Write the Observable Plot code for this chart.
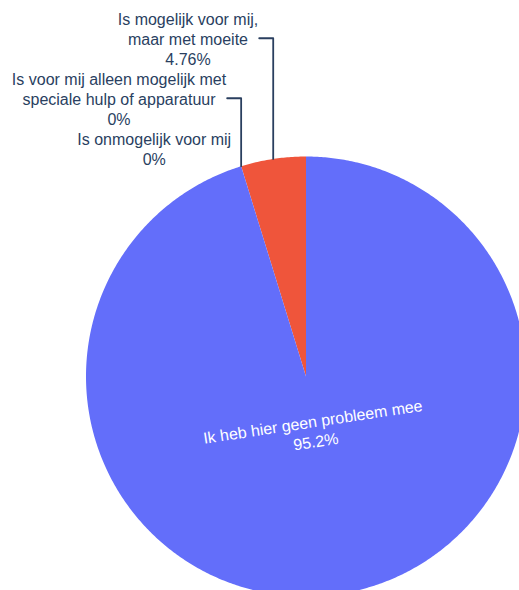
<!DOCTYPE html>
<html>
<head>
<meta charset="utf-8">
<script src="https://cdn.jsdelivr.net/npm/d3@7"></script>
<script src="https://cdn.jsdelivr.net/npm/@observablehq/plot@0.6"></script>
<style>
  html, body { margin: 0; padding: 0; background: #ffffff; overflow: hidden; }
  #chart svg { display: block; }
</style>
</head>
<body>
<div id="chart"></div>
<script>
// ---- data (counter-clockwise order starting at 12 o'clock) ----
const categories = [
  "Is mogelijk voor mij,\nmaar met moeite",
  "Is voor mij alleen mogelijk met\nspeciale hulp of apparatuur",
  "Is onmogelijk voor mij",
  "Ik heb hier geen probleem mee"
];
const values = [4.76, 0, 0, 95.2];
const percentLabels = ["4.76%", "0%", "0%", "95.2%"];
const colors = ["#EF553B", "#EF553B", "#EF553B", "#636EFA"];

// ---- layout constants ----
const W = 519, H = 590;
const cx = 305.5, cy = 376, R = 220;
const fontSize = 16, lineH = 20;
const textColor = "#2a3f5f";
const font = "Liberation Sans, Arial, Helvetica, sans-serif";

// ---- angles (degrees, ccw from top) ----
const total = d3.sum(values);
let acc = 0;
const slices = categories.map((c, i) => {
  const a0 = acc / total * 360;
  acc += values[i];
  const a1 = acc / total * 360;
  return {cat: c, value: values[i], pct: percentLabels[i], color: colors[i], a0, a1, mid: (a0 + a1) / 2, i};
});
const rad = d => d * Math.PI / 180;
const px = (r, a) => -r * Math.sin(rad(a));
const py = (r, a) => r * Math.cos(rad(a));

// slice polygons
const polys = [];
for (const s of slices) {
  if (s.value <= 0) continue;
  polys.push({key: s.cat, x: 0, y: 0});
  const n = Math.max(2, Math.ceil((s.a1 - s.a0) / 0.5));
  for (let k = 0; k <= n; ++k) {
    const a = s.a0 + (s.a1 - s.a0) * k / n;
    polys.push({key: s.cat, x: px(1, a), y: py(1, a)});
  }
  polys.push({key: s.cat, x: 0, y: 0});
}

// pixel <-> data helpers
const toX = p => (p - cx) / R;
const toY = p => (cy - p) / R;

// measure text widths
const ctx = document.createElement("canvas").getContext("2d");
ctx.font = `${fontSize}px "Liberation Sans", Arial, sans-serif`;
const blockWidth = lines => d3.max(lines, l => ctx.measureText(l).width);

// outside labels: small slices, stacked upward from the last one
const big = slices.reduce((a, b) => (b.value > a.value ? b : a));
const outside = slices.filter(s => s !== big);
const outsideTexts = [];
const leaders = [];
let nextTop = null;
for (let k = outside.length - 1; k >= 0; --k) {
  const s = outside[k];
  const lines = (s.cat + "\n" + s.pct).split("\n");
  const pX = cx + px(R, s.mid), pY = cy - py(R, s.mid);
  const w = blockWidth(lines);
  let lastY, right, withLeader;
  if (nextTop === null) {
    lastY = pY - 8; right = pX - 10; withLeader = false;
  } else {
    lastY = nextTop - lineH; right = pX - 15; withLeader = true;
  }
  const firstY = lastY - (lines.length - 1) * lineH;
  const midY = (firstY + lastY) / 2;
  outsideTexts.push({text: lines.join("\n"), x: toX(right - w / 2), y: toY(midY)});
  if (withLeader) {
    const id = s.cat;
    leaders.push({id, x: toX(pX), y: toY(pY)});
    leaders.push({id, x: toX(pX), y: toY(midY)});
    leaders.push({id, x: toX(pX - 14), y: toY(midY)});
  }
  nextTop = firstY;
}

// inside label for the big slice
const insideR = 0.25;
const inside = [{
  text: big.cat + "\n" + big.pct,
  x: px(insideR, big.mid),
  y: py(insideR, big.mid),
  rotate: -(big.mid - 180)
}];

const chart = Plot.plot({
  width: W,
  height: H,
  style: {fontFamily: font, background: "#ffffff"},
  x: {domain: [-1, 1], range: [cx - R, cx + R], axis: null},
  y: {domain: [-1, 1], range: [cy + R, cy - R], axis: null},
  color: {domain: slices.map(s => s.cat), range: slices.map(s => s.color)},
  marks: [
    Plot.line(polys, {x: "x", y: "y", z: "key", fill: "key", stroke: "none", curve: "linear"}),
    Plot.line(leaders, {x: "x", y: "y", z: "id", stroke: textColor, strokeWidth: 1.8, curve: "linear"}),
    Plot.text(outsideTexts, {x: "x", y: "y", text: "text", fill: textColor, fontSize, lineHeight: lineH / fontSize, textAnchor: "middle", lineAnchor: "middle"}),
    Plot.text(inside, {x: "x", y: "y", text: "text", rotate: "rotate", fill: "#ffffff", fontSize, lineHeight: lineH / fontSize, textAnchor: "middle", lineAnchor: "middle"})
  ]
});
document.getElementById("chart").appendChild(chart);
</script>
</body>
</html>
